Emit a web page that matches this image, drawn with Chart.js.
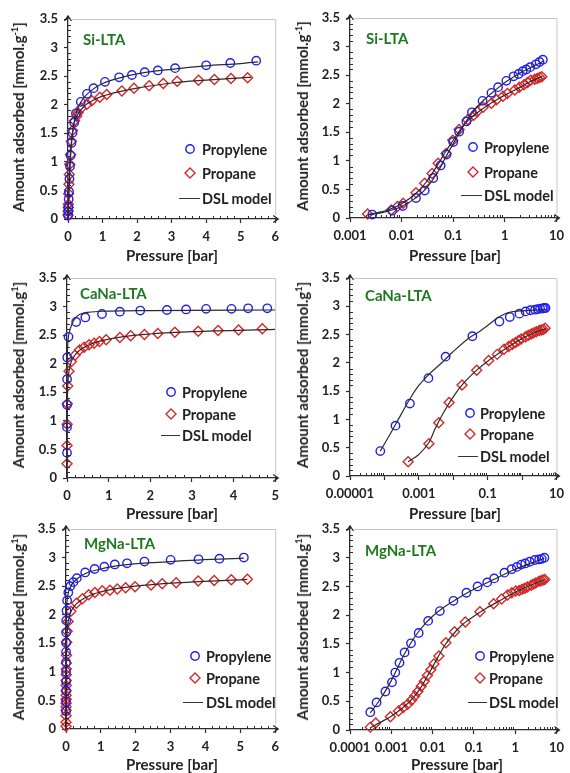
<!DOCTYPE html>
<html lang="en">
<head>
<meta charset="UTF-8">
<title>Propylene / propane isotherms on LTA zeolites</title>
<style>
  body { margin: 0; background: #fff; font-family: Lato, 'Open Sans', sans-serif; }
  #page { position: relative; width: 570px; height: 773px; overflow: hidden; background: #fff; }
  #page canvas { position: absolute; }
  .ytitle, .xtitle, .tag, .leg { position: absolute; white-space: nowrap; font-weight: 700; color: #222; }
  .ytitle { font-size: 15px; transform: translate(-50%, -50%) rotate(-90deg); }
  .ytitle sup { font-size: 9px; vertical-align: 6px; line-height: 0; }
  .xtitle { font-size: 15px; transform: translate(-50%, -50%); }
  .tag { font-size: 15px; color: #1f7a1f; transform: translateY(-50%); }
  .leg { font-size: 14.5px; transform: translateY(-50%); }
  .sym { position: absolute; }
  .dash { position: absolute; height: 0; border-top: 1.3px solid #333; }
</style>
<script src="https://cdn.jsdelivr.net/npm/chart.js"></script>
</head>
<body>
<div id="page"></div>

<script>
// ---- data: [pressure (bar), amount adsorbed (mmol/g)] ----

// Si-LTA
const siPropylene = [[0.0027,0.06],[0.0066,0.13],[0.0105,0.21],[0.019,0.35],[0.028,0.48],[0.041,0.70],
  [0.057,0.92],[0.074,1.11],[0.10,1.33],[0.13,1.51],[0.18,1.69],[0.23,1.85],[0.37,2.05],[0.55,2.19],
  [0.74,2.29],[1.07,2.40],[1.48,2.48],[1.85,2.52],[2.22,2.57],[2.6,2.60],[3.1,2.64],[4.0,2.69],[4.7,2.73],[5.45,2.77]];
const siPropane = [[0.0022,0.07],[0.0063,0.14],[0.0083,0.20],[0.0107,0.26],[0.019,0.44],[0.028,0.61],
  [0.039,0.78],[0.051,0.96],[0.073,1.13],[0.098,1.36],[0.13,1.55],[0.19,1.72],[0.25,1.80],[0.29,1.86],
  [0.38,1.94],[0.55,2.01],[0.69,2.07],[0.92,2.13],[1.12,2.18],[1.56,2.24],[1.91,2.29],[2.35,2.33],
  [2.76,2.37],[3.16,2.41],[3.78,2.43],[4.24,2.44],[4.72,2.46],[5.2,2.47]];
const siPropyleneModel = [[0,0],[0.0022,0.05],[0.005,0.11],[0.01,0.20],[0.02,0.37],[0.03,0.52],[0.05,0.80],
  [0.07,1.05],[0.1,1.30],[0.15,1.58],[0.2,1.76],[0.3,1.96],[0.5,2.15],[0.7,2.26],[1,2.37],[1.5,2.47],
  [2,2.54],[3,2.62],[4,2.68],[5,2.72],[5.5,2.75]];
const siPropaneModel = [[0,0],[0.0022,0.06],[0.005,0.13],[0.01,0.25],[0.02,0.45],[0.03,0.63],[0.05,0.93],
  [0.07,1.15],[0.1,1.36],[0.15,1.60],[0.2,1.72],[0.3,1.85],[0.5,1.99],[0.7,2.07],[1,2.15],[1.5,2.23],
  [2,2.29],[3,2.38],[4,2.43],[5,2.47],[5.3,2.48]];

// CaNa-LTA
const caNaPropylene = [[7.6e-5,0.44],[2.1e-4,0.89],[5.5e-4,1.28],[1.9e-3,1.73],[6.0e-3,2.11],[0.036,2.47],
  [0.22,2.73],[0.44,2.81],[0.84,2.87],[1.27,2.91],[1.76,2.93],[2.4,2.94],[2.86,2.95],[3.34,2.96],
  [3.95,2.96],[4.35,2.97],[4.81,2.97]];
const caNaPropane = [[4.9e-4,0.25],[1.96e-3,0.57],[3.8e-3,0.94],[7.6e-3,1.30],[0.018,1.61],[0.048,1.87],
  [0.107,2.04],[0.19,2.15],[0.30,2.24],[0.41,2.29],[0.53,2.33],[0.65,2.36],[0.78,2.39],[0.94,2.42],
  [1.27,2.46],[1.53,2.49],[1.86,2.51],[2.18,2.53],[2.59,2.55],[3.15,2.57],[3.63,2.58],[4.12,2.59],[4.69,2.61]];
const caNaPropyleneModel = [[0,0],[7.6e-5,0.44],[1.5e-4,0.75],[3e-4,1.08],[6e-4,1.40],[1e-3,1.60],[2e-3,1.80],
  [5e-3,2.02],[0.01,2.20],[0.03,2.45],[0.06,2.56],[0.1,2.66],[0.2,2.80],[0.3,2.86],[0.5,2.90],[1,2.92],
  [2,2.93],[5,2.94]];
const caNaPropaneModel = [[0,0],[4.9e-4,0.25],[1e-3,0.38],[2e-3,0.60],[3e-3,0.84],[5e-3,1.10],[0.01,1.40],
  [0.02,1.64],[0.05,1.88],[0.1,2.03],[0.2,2.16],[0.5,2.32],[1,2.43],[2,2.52],[3,2.56],[5,2.60]];

// MgNa-LTA
const mgNaPropylene = [[3.1e-4,0.31],[4.4e-4,0.48],[7.2e-4,0.67],[1.04e-3,0.83],[1.25e-3,1.00],[1.58e-3,1.17],
  [2.1e-3,1.35],[3.0e-3,1.51],[4.6e-3,1.69],[7.8e-3,1.90],[0.015,2.07],[0.032,2.25],[0.066,2.39],
  [0.123,2.50],[0.21,2.57],[0.31,2.64],[0.55,2.74],[0.82,2.80],[1.1,2.84],[1.4,2.88],[1.75,2.90],
  [2.25,2.93],[3.0,2.96],[3.8,2.97],[4.4,2.98],[5.1,3.00]];
const mgNaPropane = [[3.1e-4,0.05],[4.2e-4,0.12],[9.5e-4,0.23],[1.5e-3,0.33],[1.95e-3,0.39],[2.5e-3,0.45],
  [3.1e-3,0.52],[3.7e-3,0.59],[4.4e-3,0.67],[5.3e-3,0.76],[6.3e-3,0.85],[7.5e-3,0.95],[9.1e-3,1.05],
  [0.0108,1.15],[0.0142,1.29],[0.021,1.52],[0.034,1.71],[0.062,1.88],[0.14,2.06],[0.30,2.20],[0.47,2.28],
  [0.65,2.35],[0.83,2.39],[1.04,2.42],[1.26,2.43],[1.47,2.45],[1.71,2.47],[1.98,2.49],[2.44,2.52],
  [2.76,2.54],[3.16,2.56],[3.79,2.59],[4.25,2.60],[4.74,2.61],[5.2,2.62]];
const mgNaPropyleneModel = [[0,0],[3.1e-4,0.30],[5e-4,0.50],[1e-3,0.86],[2e-3,1.30],[3e-3,1.52],[5e-3,1.75],
  [0.01,1.98],[0.02,2.15],[0.05,2.33],[0.1,2.45],[0.3,2.62],[1,2.80],[3,2.93],[5.1,2.99]];
const mgNaPropaneModel = [[0,0],[3.1e-4,0.04],[5e-4,0.12],[1e-3,0.24],[2e-3,0.40],[3e-3,0.52],[5e-3,0.72],
  [0.01,1.10],[0.02,1.48],[0.03,1.65],[0.05,1.82],[0.1,1.98],[0.2,2.12],[0.5,2.28],[1,2.40],[2,2.50],[5.2,2.62]];

// ---- tick labels ----
const yTicks = [0, 0.5, 1, 1.5, 2, 2.5, 3, 3.5];
const linTicks6 = ['0','1','2','3','4','5','6'];
const linTicks5 = ['0','1','2','3','4','5'];
const siLogTicks = ['0.001','0.01','0.1','1','10'];
const caNaLogTicks = ['0.00001','0.001','0.1','10'];
const mgNaLogTicks = ['0.0001','0.001','0.01','0.1','1','10'];

const BLUE = '#1f1ff0';
const RED = '#d42828';
const INK = '#2b2b2b';

// panel layout, page coordinates
const panels = [
  { tag: 'Si-LTA', pts: [siPropylene, siPropane], model: [siPropyleneModel, siPropaneModel],
    log: false, xMin: 0, xMax: 6, xLabels: linTicks6, col: 0, sup: '-1',
    area: { l: 68, r: 277, t: 19, b: 219 }, tagAt: [83, 39], yTitle: [18, 117], xTitle: [172, 255],
    legend: { mx: 190, tx: 202, ys: [149, 173, 198], line: [179, 200] } },
  { tag: 'Si-LTA', pts: [siPropylene, siPropane], model: [siPropyleneModel, siPropaneModel],
    log: true, xMin: 0.001, xMax: 10, xLabels: siLogTicks, col: 1, sup: '-1',
    area: { l: 350, r: 560, t: 18, b: 218 }, tagAt: [366, 38], yTitle: [302, 116], xTitle: [455, 255],
    legend: { mx: 473, tx: 484, ys: [147, 172, 195], line: [461, 482] } },
  { tag: 'CaNa-LTA', pts: [caNaPropylene, caNaPropane], model: [caNaPropyleneModel, caNaPropaneModel],
    log: false, xMin: 0, xMax: 5, xLabels: linTicks5, col: 0, sup: '1',
    area: { l: 67, r: 280, t: 278, b: 478 }, tagAt: [80, 293], yTitle: [18, 375], xTitle: [172, 513],
    legend: { mx: 171, tx: 182, ys: [392, 414, 435], line: [161, 180] } },
  { tag: 'CaNa-LTA', pts: [caNaPropylene, caNaPropane], model: [caNaPropyleneModel, caNaPropaneModel],
    log: true, xMin: 0.00001, xMax: 10, xLabels: caNaLogTicks, col: 1, sup: '1',
    area: { l: 350, r: 562, t: 278, b: 476 }, tagAt: [365, 295], yTitle: [302, 375], xTitle: [455, 513],
    legend: { mx: 470, tx: 480, ys: [413, 434, 456], line: [458, 478] } },
  { tag: 'MgNa-LTA', pts: [mgNaPropylene, mgNaPropane], model: [mgNaPropyleneModel, mgNaPropaneModel],
    log: false, xMin: 0, xMax: 6, xLabels: linTicks6, col: 0, sup: '1',
    area: { l: 66, r: 278, t: 529, b: 729 }, tagAt: [84, 543], yTitle: [18, 627], xTitle: [172, 764],
    legend: { mx: 195, tx: 206, ys: [656, 678, 702], line: [183, 203] } },
  { tag: 'MgNa-LTA', pts: [mgNaPropylene, mgNaPropane], model: [mgNaPropyleneModel, mgNaPropaneModel],
    log: true, xMin: 0.0001, xMax: 10, xLabels: mgNaLogTicks, col: 1, sup: '1',
    area: { l: 350, r: 563, t: 529, b: 730 }, tagAt: [365, 550], yTitle: [302, 627], xTitle: [457, 764],
    legend: { mx: 480, tx: 489, ys: [656, 678, 702], line: [468, 487] } }
];

Chart.defaults.font.family = 'Lato, "Open Sans", sans-serif';
Chart.defaults.font.weight = 'bold';
Chart.defaults.font.size = 13;
Chart.defaults.color = '#222';

// minor ticks (inside), light frame and arrow heads on both axes
const axisDecor = {
  id: 'axisDecor',
  afterDraw(chart) {
    const { ctx, chartArea: a, scales: { x, y } } = chart;
    ctx.save();
    ctx.strokeStyle = '#c6c6c6';
    ctx.lineWidth = 1;
    ctx.beginPath();
    ctx.moveTo(a.left + 4, a.top + 0.5);
    ctx.lineTo(a.right + 0.5, a.top + 0.5);
    ctx.lineTo(a.right + 0.5, a.bottom - 4);
    ctx.stroke();

    ctx.strokeStyle = INK;
    ctx.lineWidth = 1;
    ctx.beginPath();
    const xs = [];
    if (x.type === 'logarithmic') {
      for (let d = x.min; d < x.max * 0.999; d *= 10)
        for (let k = 2; k <= 9; k++) xs.push(d * k);
    } else {
      for (let i = 1; i < x.max * 5; i++) if (i % 5) xs.push(i / 5);
    }
    xs.forEach(v => {
      const px = Math.round(x.getPixelForValue(v)) + 0.5;
      ctx.moveTo(px, a.bottom); ctx.lineTo(px, a.bottom - 3);
    });
    for (let i = 1; i < 35; i++) {
      if (i % 5 === 0) continue;
      const py = Math.round(y.getPixelForValue(i / 10)) + 0.5;
      ctx.moveTo(a.left, py); ctx.lineTo(a.left + 3, py);
    }
    ctx.stroke();

    // arrow heads
    ctx.lineWidth = 1.3;
    ctx.beginPath();
    ctx.moveTo(a.left, a.top);
    ctx.lineTo(a.left, a.top - 3);
    ctx.moveTo(a.left - 3.5, a.top + 2);
    ctx.lineTo(a.left, a.top - 3);
    ctx.lineTo(a.left + 3.5, a.top + 2);
    ctx.moveTo(a.right, a.bottom);
    ctx.lineTo(a.right + 3, a.bottom);
    ctx.moveTo(a.right - 2, a.bottom - 3.5);
    ctx.lineTo(a.right + 3, a.bottom);
    ctx.lineTo(a.right - 2, a.bottom + 3.5);
    ctx.stroke();
    ctx.restore();
  }
};

const page = document.getElementById('page');

function toXY(arr, log) {
  return arr.filter(p => !log || p[0] > 0).map(p => ({ x: p[0], y: p[1] }));
}

function addText(cls, html, x, y) {
  const el = document.createElement('div');
  el.className = cls;
  el.innerHTML = html;
  el.style.left = x + 'px';
  el.style.top = y + 'px';
  page.appendChild(el);
}

function drawPanel(p) {
  const left = p.col * 285, top = p.area.t - 22;
  const w = 285, h = p.area.b - top + 34;
  const canvas = document.createElement('canvas');
  canvas.width = w; canvas.height = h;
  canvas.style.left = left + 'px';
  canvas.style.top = top + 'px';
  page.appendChild(canvas);

  const yWidth = p.area.l - left;
  const xHeight = top + h - p.area.b;

  let xTickValues;
  if (p.log) {
    xTickValues = [];
    for (let d = p.xMin; d <= p.xMax * 1.001; d *= 10) xTickValues.push(d);
  } else {
    xTickValues = p.xLabels.map(Number);
  }

  const lineSet = data => ({
    data: toXY(data, p.log), showLine: true, pointRadius: 0, borderColor: INK, borderWidth: 1.2,
    cubicInterpolationMode: 'monotone', order: 0, clip: false
  });

  new Chart(canvas, {
    type: 'scatter',
    data: {
      datasets: [
        lineSet(p.model[0]),
        lineSet(p.model[1]),
        { data: toXY(p.pts[0], p.log), pointStyle: 'circle', pointRadius: 4.2, borderColor: BLUE,
          backgroundColor: 'rgba(0,0,0,0)', pointBorderWidth: 1.4, order: 1, clip: false },
        { data: toXY(p.pts[1], p.log), pointStyle: 'rectRot', pointRadius: 5, borderColor: RED,
          backgroundColor: 'rgba(0,0,0,0)', pointBorderWidth: 1.4, order: 1, clip: false }
      ]
    },
    options: {
      responsive: false,
      animation: false,
      events: [],
      layout: { padding: { top: p.area.t - top, right: left + w - p.area.r, left: 0, bottom: 0 } },
      plugins: { legend: { display: false }, tooltip: { enabled: false } },
      scales: {
        x: {
          type: p.log ? 'logarithmic' : 'linear',
          min: p.xMin, max: p.xMax,
          afterBuildTicks: s => { s.ticks = xTickValues.map(v => ({ value: v })); },
          afterFit: s => { s.height = xHeight; },
          ticks: {
            autoSkip: false, maxRotation: 0, minRotation: 0, padding: 6,
            callback: v => {
              const lab = p.xLabels.find(l => Math.abs(Number(l) - v) <= Math.abs(v) * 1e-6);
              return lab === undefined ? '' : lab;
            }
          },
          grid: { display: true, drawOnChartArea: false, drawTicks: true, tickLength: 4, tickColor: INK, tickWidth: 1.2 },
          border: { display: true, color: INK, width: 1.3 }
        },
        y: {
          min: 0, max: 3.5,
          afterBuildTicks: s => { s.ticks = yTicks.map(v => ({ value: v })); },
          afterFit: s => { s.width = yWidth; },
          ticks: { padding: 6, callback: v => String(v) },
          grid: { display: true, drawOnChartArea: false, drawTicks: true, tickLength: 4, tickColor: INK, tickWidth: 1.2 },
          border: { display: true, color: INK, width: 1.3 }
        }
      }
    },
    plugins: [axisDecor]
  });

  // titles and panel tag
  addText('ytitle', 'Amount adsorbed [mmol.g<sup>' + p.sup + '</sup>]', p.yTitle[0], p.yTitle[1]);
  addText('xtitle', 'Pressure [bar]', p.xTitle[0], p.xTitle[1]);
  addText('tag', p.tag, p.tagAt[0], p.tagAt[1]);

  // legend
  const L = p.legend;
  const circle = `<svg class="sym" width="14" height="14" style="left:${L.mx - 7}px;top:${L.ys[0] - 7}px">
    <circle cx="7" cy="7" r="4.2" fill="none" stroke="${BLUE}" stroke-width="1.4"/></svg>`;
  const diamond = `<svg class="sym" width="14" height="14" style="left:${L.mx - 7}px;top:${L.ys[1] - 7}px">
    <path d="M7 2 L12 7 L7 12 L2 7 Z" fill="none" stroke="${RED}" stroke-width="1.4"/></svg>`;
  page.insertAdjacentHTML('beforeend', circle + diamond +
    `<div class="dash" style="left:${L.line[0]}px;top:${L.ys[2]}px;width:${L.line[1] - L.line[0]}px"></div>`);
  addText('leg', 'Propylene', L.tx, L.ys[0]);
  addText('leg', 'Propane', L.tx, L.ys[1]);
  addText('leg', 'DSL model', L.tx, L.ys[2]);
}

panels.forEach(drawPanel);
</script>
</body>
</html>
